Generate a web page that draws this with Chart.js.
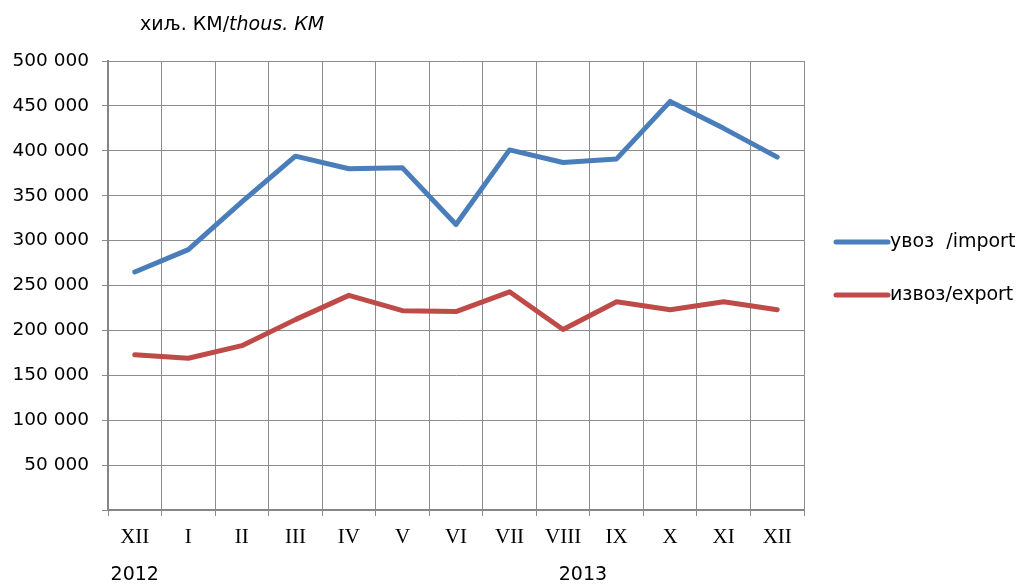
<!DOCTYPE html>
<html><head><meta charset="utf-8">
<script src="https://cdn.jsdelivr.net/npm/chart.js@4"></script>
<style>html,body{margin:0;padding:0;background:#fff}#wrap{width:1022px;height:585px;position:relative}</style>
</head><body><div id="wrap"><canvas id="c" width="1022" height="585"></canvas></div>
<script>
const categories = ["XII","I","II","III","IV","V","VI","VII","VIII","IX","X","XI","XII"];
const importValues = [265000, 290000, 343000, 394000, 380000, 381000, 318000, 401000, 387000, 391000, 455000, 425000, 393000];
const exportValues = [173000, 169000, 183000, 212000, 239000, 222000, 221000, 243000, 201000, 232000, 223000, 232000, 223000];
const seriesLabels = ["увоз  /import", "извоз/export"];
const yearLabels = [{text:"2012", at:0}, {text:"2013", at:8.37}];
const yTicks = {min:0, max:500000, step:50000};

const SANS = '"DejaVu Sans", Verdana, sans-serif';
const SERIF = '"Liberation Serif", "Times New Roman", serif';

const extras = {
  id:'extras',
  afterDraw(chart){
    const ctx = chart.ctx, x = chart.scales.x;
    ctx.save();
    ctx.fillStyle = '#000';
    ctx.textBaseline = 'middle';
    ctx.textAlign = 'left';
    ctx.font = '19px ' + SANS;
    const p1 = 'хиљ. КМ/';
    ctx.fillText(p1, 140, 25);
    const w1 = ctx.measureText(p1).width;
    ctx.font = 'italic 19px ' + SANS;
    ctx.fillText('thous. КМ', 140 + w1, 25);
    ctx.font = '19px ' + SANS;
    ctx.textAlign = 'center';
    yearLabels.forEach(y => {
      const i = Math.floor(y.at), f = y.at - i;
      const px = x.getPixelForValue(i) + f * (x.getPixelForValue(1) - x.getPixelForValue(0));
      ctx.fillText(y.text, px, 575);
    });
    const ds = chart.data.datasets;
    const ly = [242, 295];
    ds.forEach((d, k) => {
      ctx.strokeStyle = d.borderColor;
      ctx.lineWidth = 5;
      ctx.lineCap = 'round';
      ctx.beginPath();
      ctx.moveTo(836, ly[k]); ctx.lineTo(888, ly[k]); ctx.stroke();
      ctx.fillStyle = '#000';
      ctx.textAlign = 'left';
      ctx.font = '19px ' + SANS;
      ctx.fillText(d.label, 890, ly[k]);
    });
    ctx.restore();
  }
};

new Chart(document.getElementById('c'), {
  type:'line',
  data:{
    labels:categories,
    datasets:[
      {label:seriesLabels[0], data:importValues, borderColor:'#4A7EBB', borderWidth:5, pointRadius:0, tension:0, borderCapStyle:'round', borderJoinStyle:'round'},
      {label:seriesLabels[1], data:exportValues, borderColor:'#BE4B48', borderWidth:5, pointRadius:0, tension:0, borderCapStyle:'round', borderJoinStyle:'round'}
    ]
  },
  options:{
    responsive:false, animation:false, devicePixelRatio:1,
    layout:{padding:{left:0, right:218, top:61, bottom:0}},
    plugins:{legend:{display:false}, tooltip:{enabled:false}},
    scales:{
      x:{
        offset:true,
        grid:{offset:true, color:'#8c8c8c', lineWidth:1, tickLength:6, drawTicks:true},
        border:{color:'#868686', width:2},
        ticks:{font:{family:SERIF, size:21}, color:'#000', padding:9, maxRotation:0, autoSkip:false},
        afterFit(s){ s.height = 75; }
      },
      y:{
        min:yTicks.min, max:yTicks.max,
        grid:{color:'#8c8c8c', lineWidth:1, tickLength:6},
        border:{color:'#868686', width:2},
        ticks:{stepSize:yTicks.step, font:{family:SANS, size:18.5}, color:'#000', padding:13,
          callback:v => v === 0 ? '' : String(v).replace(/\B(?=(\d{3})+(?!\d))/g, ' ')},
        afterFit(s){ s.width = 108; }
      }
    }
  },
  plugins:[extras]
});
</script></body></html>
